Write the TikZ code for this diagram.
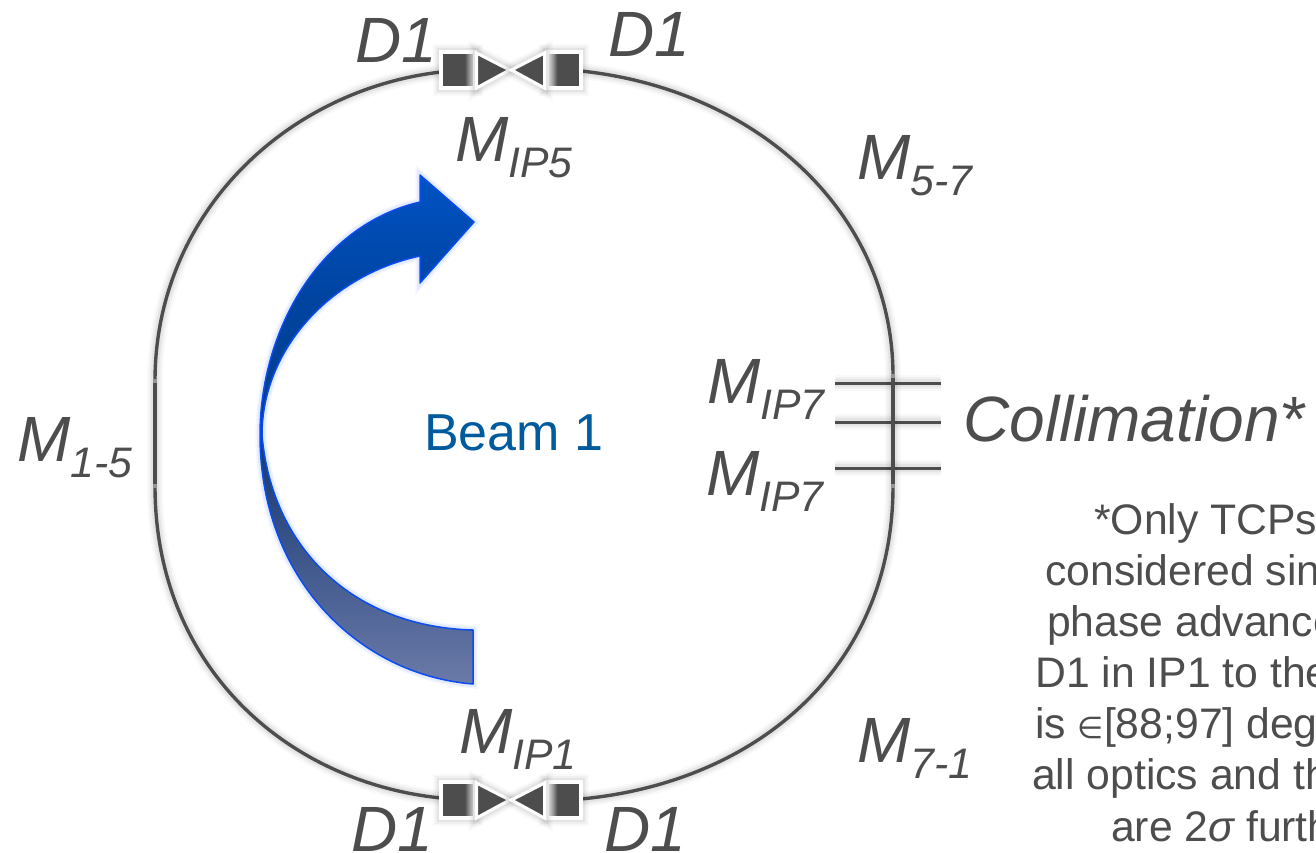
\documentclass[tikz,border=0pt]{standalone}
\usepackage{fontspec}
\setmainfont{Liberation Sans}
\newfontfamily\symbolfont{DejaVu Sans}
\usetikzlibrary{calc}

\definecolor{ink}{HTML}{4D4D4D}
\definecolor{beamtext}{HTML}{005A9E}
\definecolor{beamedge}{HTML}{0A4CF0}
\definecolor{beamA}{HTML}{6B7AA8}
\definecolor{beamB}{HTML}{1F3F78}
\definecolor{beamC}{HTML}{003F8F}
\definecolor{beamD}{HTML}{0044A0}
\definecolor{beamE}{HTML}{0052C4}

\pgfdeclarehorizontalshading{magnetL}{100bp}{color(0bp)=(ink); color(60bp)=(ink); color(75bp)=(white); color(100bp)=(white)}
\pgfdeclarehorizontalshading{magnetR}{100bp}{color(0bp)=(white); color(25bp)=(white); color(40bp)=(ink); color(100bp)=(ink)}
\pgfdeclareverticalshading{beamfade}{100bp}{color(0bp)=(beamA); color(25bp)=(beamA); color(46bp)=(beamB); color(51bp)=(beamC); color(63bp)=(beamD); color(75bp)=(beamE); color(100bp)=(beamE)}

\newcommand{\magsub}[1]{\raisebox{-16pt}{\fontsize{42.7}{42.7}\selectfont #1}}

\begin{document}
\begin{tikzpicture}[
    x=1pt, y=-1pt,
    % Soft halo under every drawn shape
    halo/.style={
        preaction={draw=black, line width=16pt, opacity=0.025},
        preaction={draw=black, line width=12pt, opacity=0.035},
        preaction={draw=black, line width=8pt, opacity=0.05}
    },
    ring/.style={draw=ink, line width=3.4pt, halo},
    seam/.style={draw=ink!60, line width=3.4pt},
    tick/.style={draw=ink, line width=3pt, halo},
    magnet/.style={
        rectangle, draw=white, line width=4pt, inner sep=0pt,
        minimum width=34pt, minimum height=36pt, halo, shading=#1
    },
    quad/.style={fill=ink, draw=white, line width=3pt, line join=miter, halo},
    beamarrow/.style={
        shading=beamfade, draw=beamedge, line width=1.5pt, line join=round,
        preaction={draw=beamedge, line width=9pt, opacity=0.05},
        preaction={draw=beamedge, line width=6pt, opacity=0.07}
    },
    maglabel/.style={
        anchor=base west, inner sep=0pt, text=ink,
        font=\fontsize{64}{64}\selectfont\itshape
    },
    noteline/.style={
        anchor=base west, inner sep=0pt, text=ink,
        font=\fontsize{42.7}{51}\selectfont
    },
]
\useasboundingbox (0,0) rectangle (1316,853);

% Collimation ticks (behind the ring)
\foreach \i/\y in {1/383, 2/422, 3/468} {
    \coordinate (tick\i w) at (835,\y);
    \coordinate (tick\i e) at (941,\y);
    \draw[tick] (tick\i w) -- (tick\i e);
}

% Ends of the straight sections
\coordinate (L1) at (155,381);
\coordinate (L2) at (155,486);
\coordinate (R1) at (893,376);
\coordinate (R2) at (893,486);

% Ring
\draw[ring] (441,72) .. controls (285,90) and (155,215) .. (L1);
\draw[ring] (581,71) .. controls (760,90) and (893,215) .. (R1);
\draw[ring] (441,798) .. controls (285,782) and (155,665) .. (L2);
\draw[ring] (581,799) .. controls (760,782) and (893,665) .. (R2);
\draw[ring] (L1) -- (L2);
\draw[ring] (R1) -- (R2);
\foreach \a in {L1, L2, R1, R2}
    \draw[seam] ($(\a)+(0,-2)$) -- ($(\a)+(0,2)$);

% D1 magnets
\node[magnet=magnetL] (D1tl) at (458,70) {};
\node[magnet=magnetR] (D1tr) at (564,70) {};
\node[magnet=magnetL] (D1bl) at (458,800) {};
\node[magnet=magnetR] (D1br) at (564,800) {};

% Quadrupole triangles at both IPs
\foreach \y in {70, 800} {
    \draw[quad] (476.5,\y-17) -- (509.5,\y) -- (476.5,\y+18) -- cycle;
    \draw[quad] (544.5,\y-17) -- (511.5,\y) -- (544.5,\y+18) -- cycle;
}

% Beam arrow
\path[beamarrow] (473,684) .. controls (360,675) and (260,580) .. (260,435)
    .. controls (260,330) and (320,225) .. (420,202)
    -- (420,175) -- (474,222) -- (420,283) -- (420,256)
    .. controls (330,275) and (262,350) .. (262,435)
    .. controls (272,550) and (355,627) .. (473,630) -- cycle;

\node[anchor=base west, inner sep=0pt, text=beamtext, font=\fontsize{52}{52}\selectfont] (beam) at (424,450) {Beam 1};

% Labels
\node[maglabel] (dtl) at (355,63) {D1};
\node[maglabel] (dtr) at (608,57) {D1};
\node[maglabel] (dbl) at (351,851) {D1};
\node[maglabel] (dbr) at (604,851) {D1};
\node[maglabel] (mip5) at (455,162) {M\magsub{IP5}};
\node[maglabel] (m57) at (857,180) {M\magsub{5-7}};
\node[maglabel] (mip1) at (459,753) {M\magsub{IP1}};
\node[maglabel] (m71) at (857,762) {M\magsub{7-1}};
\node[maglabel] (m15) at (17,461) {M\magsub{1-5}};
\node[maglabel] (mip7a) at (707,403) {M\magsub{IP7}};
\node[maglabel] (mip7b) at (706,495) {M\magsub{IP7}};
\node[maglabel] (coll) at (963,441) {Collimation*};

% Footnote
\node[noteline] (note1) at (1094,534) {*Only TCPs};
\node[noteline] (note2) at (1045,585) {considered sin};
\node[noteline] (note3) at (1047,636) {phase advance};
\node[noteline] (note4) at (1035,687) {D1 in IP1 to the};
\node[noteline] (note5) at (1035,738) {is {\symbolfont\fontsize{30}{30}\selectfont ∈}{[}88;97{]} deg};
\node[noteline] (note6) at (1032,789) {all optics and th};
\node[noteline] (note7) at (1111,841) {are 2{\itshape σ} furth};

\end{tikzpicture}
\end{document}
